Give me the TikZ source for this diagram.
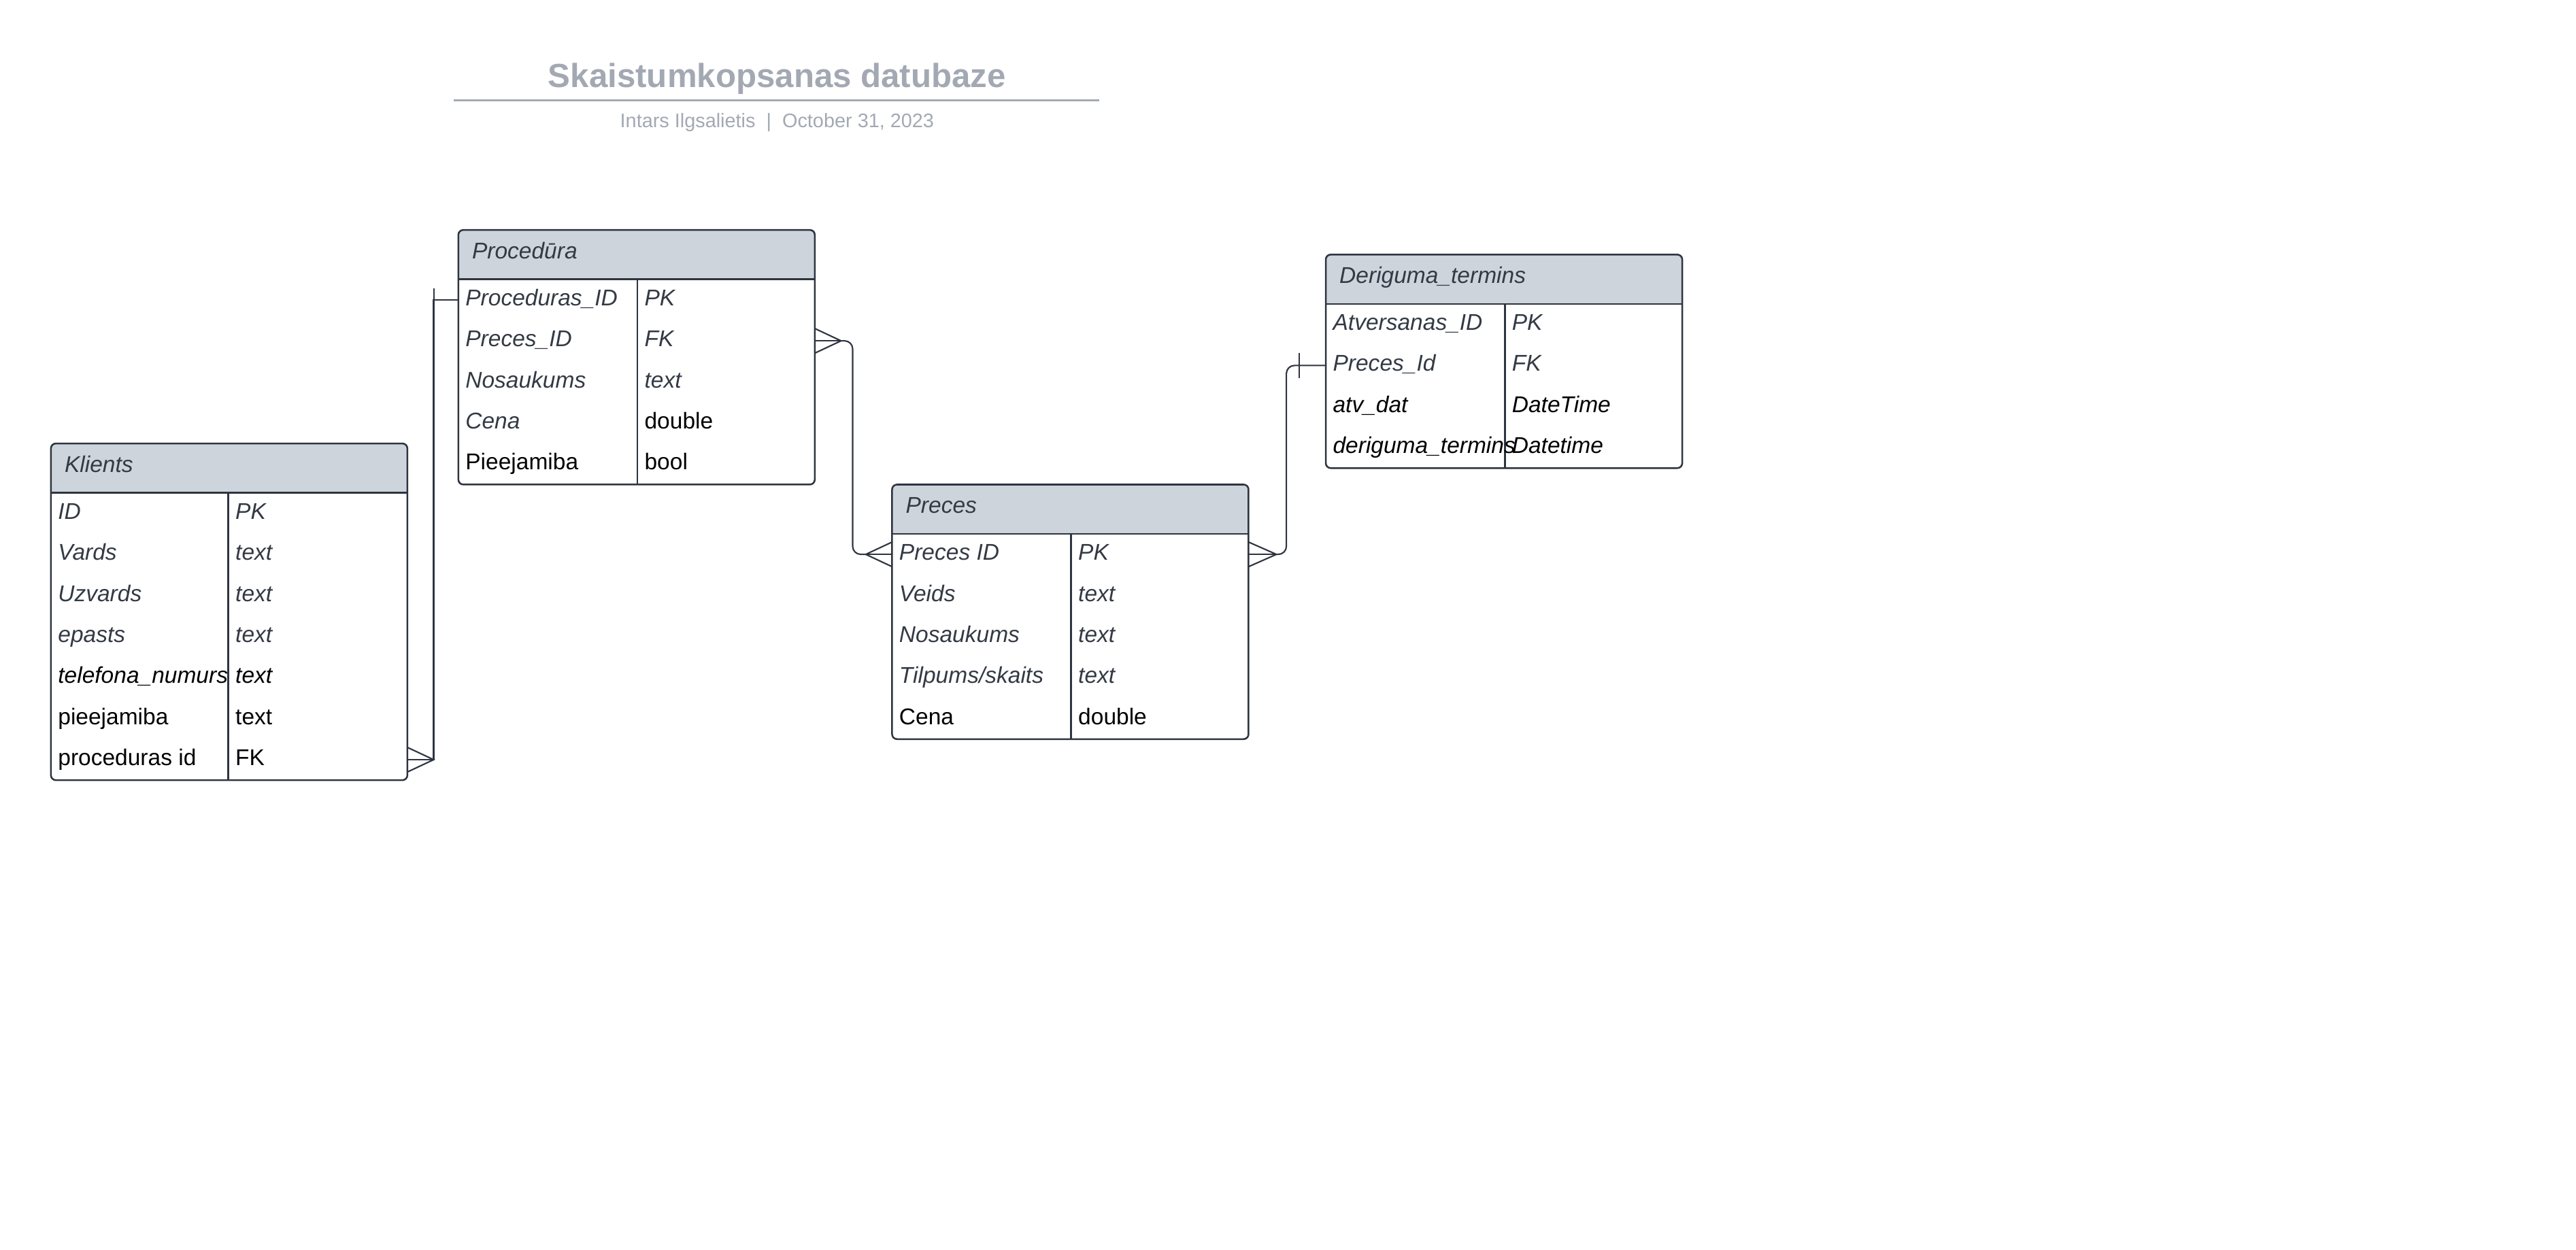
\documentclass[tikz,border=0pt]{standalone}
\usepackage{fontspec}
\setmainfont{Liberation Sans}
\usetikzlibrary{calc}

\definecolor{hdrfill}{HTML}{CED4DB}
\definecolor{edge}{HTML}{2E3440}
\definecolor{titlegray}{HTML}{A3A9B3}
\definecolor{fieldgray}{HTML}{333A44}

\tikzset{
  tbl/.style={draw=edge, line width=0.6pt, rounded corners=1.7pt, inner sep=0pt,
    outer sep=0pt, anchor=north west, minimum width=4.34cm},
  tblline/.style={draw=edge, line width=0.6pt},
  conn/.style={draw=edge, line width=0.5pt},
  fld/.style={anchor=west, inner sep=0pt, text height=5.7pt, text depth=1.7pt,
    font=\fontsize{7.9}{9}\selectfont\itshape, text=fieldgray},
  fldblack/.style={fld, text=black},
  fldplain/.style={fld, font=\fontsize{7.9}{9}\selectfont, text=black}
}

\begin{document}
\begin{tikzpicture}[x=0.02cm, y=-0.02cm]
  \useasboundingbox (0,0) rectangle (1568,761);

  %title
  \node[font=\fontsize{11.6}{14}\selectfont\bfseries, text=titlegray] (title) at (473,48) {Skaistumkopsanas datubaze};
  \draw[titlegray, line width=0.8pt] (276,61) -- (669,61);
  \node[font=\fontsize{6.8}{8}\selectfont, text=titlegray] (subtitle) at (473,74.5) {Intars Ilgsalietis~~|~~October 31, 2023};

  %Klients
  \fill[hdrfill, rounded corners=1.7pt] (31,270) rectangle (248,300);
  \fill[hdrfill] (31,290) rectangle (248,300);
  \node[tbl, minimum height=4.1cm] (klients) at (31,270) {};
  \draw[tblline] (31,300) -- (248,300);
  \draw[tblline] (139,300) -- (139,475);
  \node[fld] (klHead) at (39,284) {Klients};
  \node[fld] (klID) at (35,312.5) {ID};
  \node[fld] (klIDt) at (143,312.5) {PK};
  \node[fld] (klVards) at (35,337.5) {Vards};
  \node[fld] (klVardst) at (143,337.5) {text};
  \node[fld] (klUzv) at (35,362.5) {Uzvards};
  \node[fld] (klUzvt) at (143,362.5) {text};
  \node[fld] (klEpasts) at (35,387.5) {epasts};
  \node[fld] (klEpastst) at (143,387.5) {text};
  \node[fldblack] (klTel) at (35,412.5) {telefona\_numurs};
  \node[fldblack] (klTelt) at (143,412.5) {text};
  \node[fldplain] (klPiee) at (35,437.5) {pieejamiba};
  \node[fldplain] (klPieet) at (143,437.5) {text};
  \node[fldplain] (klFK) at (35,462.5) {proceduras id};
  \node[fldplain] (klFKt) at (143,462.5) {FK};

  %Procedura
  \fill[hdrfill, rounded corners=1.7pt] (279,140) rectangle (496,170);
  \fill[hdrfill] (279,160) rectangle (496,170);
  \node[tbl, minimum height=3.1cm] (proc) at (279,140) {};
  \draw[tblline] (279,170) -- (496,170);
  \draw[tblline] (388,170) -- (388,295);
  \node[fld] (prHead) at (287,154) {Procedūra};
  \node[fld] (prPK) at (283,182.5) {Proceduras\_ID};
  \node[fld] (prPKt) at (392,182.5) {PK};
  \node[fld] (prFK) at (283,207.5) {Preces\_ID};
  \node[fld] (prFKt) at (392,207.5) {FK};
  \node[fld] (prNos) at (283,232.5) {Nosaukums};
  \node[fld] (prNost) at (392,232.5) {text};
  \node[fld] (prCena) at (283,257.5) {Cena};
  \node[fldplain] (prCenat) at (392,257.5) {double};
  \node[fldplain] (prPiee) at (283,282.5) {Pieejamiba};
  \node[fldplain] (prPieet) at (392,282.5) {bool};

  %Preces
  \fill[hdrfill, rounded corners=1.7pt] (543,295) rectangle (760,325);
  \fill[hdrfill] (543,315) rectangle (760,325);
  \node[tbl, minimum height=3.1cm] (preces) at (543,295) {};
  \draw[tblline] (543,325) -- (760,325);
  \draw[tblline] (652,325) -- (652,450);
  \node[fld] (pcHead) at (551,309) {Preces};
  \node[fld] (pcPK) at (547,337.5) {Preces ID};
  \node[fld] (pcPKt) at (656,337.5) {PK};
  \node[fld] (pcVeids) at (547,362.5) {Veids};
  \node[fld] (pcVeidst) at (656,362.5) {text};
  \node[fld] (pcNos) at (547,387.5) {Nosaukums};
  \node[fld] (pcNost) at (656,387.5) {text};
  \node[fld] (pcTilp) at (547,412.5) {Tilpums/skaits};
  \node[fld] (pcTilpt) at (656,412.5) {text};
  \node[fldplain] (pcCena) at (547,437.5) {Cena};
  \node[fldplain] (pcCenat) at (656,437.5) {double};

  %Deriguma_termins
  \fill[hdrfill, rounded corners=1.7pt] (807,155) rectangle (1024,185);
  \fill[hdrfill] (807,175) rectangle (1024,185);
  \node[tbl, minimum height=2.6cm] (deriguma) at (807,155) {};
  \draw[tblline] (807,185) -- (1024,185);
  \draw[tblline] (916,185) -- (916,285);
  \node[fld] (drHead) at (815,169) {Deriguma\_termins};
  \node[fld] (drPK) at (811,197.5) {Atversanas\_ID};
  \node[fld] (drPKt) at (920,197.5) {PK};
  \node[fld] (drFK) at (811,222.5) {Preces\_Id};
  \node[fld] (drFKt) at (920,222.5) {FK};
  \node[fldblack] (drAtv) at (811,247.5) {atv\_dat};
  \node[fldblack] (drAtvt) at (920,247.5) {DateTime};
  \node[fldblack] (drTerm) at (811,272.5) {deriguma\_termins};
  \node[fldblack] (drTermt) at (920,272.5) {Datetime};

  %connectors
  %Klients - Procedura
  \coordinate (klEnd) at (klients.east |- klFK.west);
  \coordinate (prEnd) at (proc.west |- prPK.west);
  \draw[conn] ($(klEnd)+(0,-7.5)$) -- ($(klEnd)+(16,0)$) -- ($(klEnd)+(0,7.5)$);
  \draw[conn] (klEnd) -- ($(klEnd)+(16,0)$) |- (prEnd);
  \draw[conn] ($(prEnd)+(-15,-7)$) -- ($(prEnd)+(-15,0)$);

  %Procedura - Preces
  \coordinate (prFKEnd) at (proc.east |- prFK.west);
  \coordinate (pcEndL) at (preces.west |- pcPK.west);
  \draw[conn] ($(prFKEnd)+(0,-7.5)$) -- ($(prFKEnd)+(16,0)$) -- ($(prFKEnd)+(0,7.5)$);
  \draw[conn] (prFKEnd) -- ($(prFKEnd)+(16,0)$);
  \draw[conn, rounded corners=2.8pt] ($(prFKEnd)+(16,0)$) -| ($(pcEndL)+(-24,0)$) -- ($(pcEndL)+(-16,0)$);
  \draw[conn] ($(pcEndL)+(0,-7.5)$) -- ($(pcEndL)+(-16,0)$) -- ($(pcEndL)+(0,7.5)$);
  \draw[conn] ($(pcEndL)+(-16,0)$) -- (pcEndL);

  %Preces - Deriguma_termins
  \coordinate (pcEndR) at (preces.east |- pcPK.west);
  \coordinate (drEnd) at (deriguma.west |- drFK.west);
  \draw[conn] ($(pcEndR)+(0,-7.5)$) -- ($(pcEndR)+(17,0)$) -- ($(pcEndR)+(0,7.5)$);
  \draw[conn] (pcEndR) -- ($(pcEndR)+(17,0)$);
  \draw[conn, rounded corners=2.8pt] ($(pcEndR)+(17,0)$) -| ($(drEnd)+(-24,0)$) -- (drEnd);
  \draw[conn] ($(drEnd)+(-16,-7.5)$) -- ($(drEnd)+(-16,7.5)$);
\end{tikzpicture}
\end{document}
